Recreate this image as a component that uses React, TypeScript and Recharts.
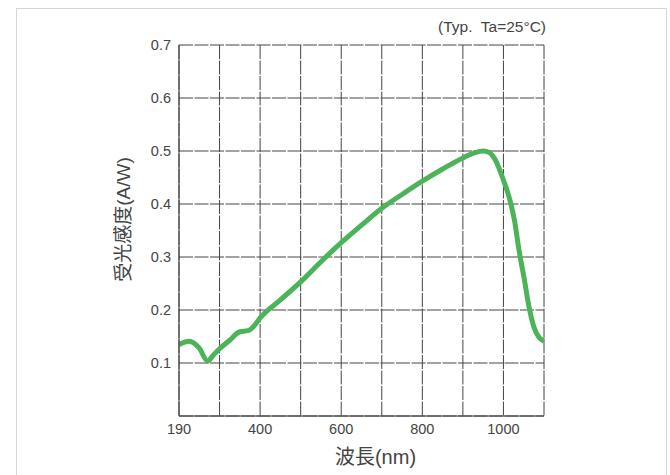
import { LineChart, Line, XAxis, YAxis, CartesianGrid } from 'recharts';

// wavelength (nm) - first grid column is labelled 190 in the original sheet
const wavelengths = [
  200, 225, 250, 270, 285, 300, 325, 350, 370, 385, 400, 450, 500, 550, 600,
  650, 700, 750, 800, 850, 900, 930, 950, 965, 980, 1000, 1015, 1027, 1039,
  1051, 1063, 1075, 1088, 1100,
];
const sensitivity = [
  0.135, 0.141, 0.128, 0.104, 0.115, 0.127, 0.143, 0.159, 0.161, 0.17, 0.185,
  0.219, 0.253, 0.291, 0.327, 0.36, 0.392, 0.418, 0.443, 0.466, 0.487, 0.497,
  0.5, 0.497, 0.483, 0.445, 0.41, 0.37, 0.31, 0.26, 0.206, 0.168, 0.148,
  0.141,
];
const xTicks = [200, 300, 400, 500, 600, 700, 800, 900, 1000, 1100];
const xTickLabels: Record<number, string> = {
  200: '190',
  400: '400',
  600: '600',
  800: '800',
  1000: '1000',
};
const yTicks = [0, 0.1, 0.2, 0.3, 0.4, 0.5, 0.6, 0.7];

const data = wavelengths.map((w, i) => ({ nm: w, value: sensitivity[i] }));

const font = '"Liberation Sans", "Noto Sans CJK JP", sans-serif';
const green = '#4cb358';

export default function App() {
  return (
    <div
      style={{
        position: 'absolute',
        left: 0,
        top: 0,
        width: 670,
        height: 475,
        background: '#fff',
        overflow: 'hidden',
        fontFamily: font,
      }}
    >
      {/* faint frame of the scanned sheet */}
      <div
        style={{
          position: 'absolute',
          left: 16,
          top: 8,
          width: 649,
          height: 480,
          border: '1px solid #d6d6d6',
        }}
      />
      <div
        style={{
          position: 'absolute',
          right: 124,
          top: 18,
          fontSize: 15.5,
          color: '#444',
          whiteSpace: 'pre',
        }}
      >
        {'(Typ.  Ta=25°C)'}
      </div>
      <div style={{ position: 'absolute', left: 0, top: 0 }}>
        <LineChart
          width={670}
          height={475}
          data={data}
          margin={{ top: 45, right: 126, left: 119, bottom: 29 }}
        >
          <CartesianGrid
            stroke="#444"
            strokeDasharray="14 1.5"
            strokeWidth={1}
          />
          <XAxis
            dataKey="nm"
            type="number"
            domain={[200, 1100]}
            ticks={xTicks}
            interval={0}
            tickFormatter={(v: number) => xTickLabels[v] ?? ''}
            axisLine={{ stroke: '#3a3a3a' }}
            tickLine={false}
            height={30}
            tick={{ fontSize: 14.5, fill: '#444', fontFamily: font }}
            label={{
              value: '波長(nm)',
              position: 'bottom',
              offset: 0,
              dx: 14,
              dy: 4,
              style: { fontSize: 20, fill: '#444', fontFamily: font },
            }}
          />
          <YAxis
            type="number"
            domain={[0, 0.7]}
            ticks={yTicks}
            interval={0}
            tickFormatter={(v: number) => (v === 0 ? '' : v.toFixed(1))}
            axisLine={{ stroke: '#3a3a3a' }}
            tickLine={false}
            width={60}
            tick={{ fontSize: 14.5, fill: '#444', fontFamily: font }}
            label={{
              value: '受光感度(A/W)',
              angle: -90,
              position: 'insideLeft',
              offset: 4,
              dy: -11,
              style: {
                fontSize: 19,
                fill: '#444',
                fontFamily: font,
                textAnchor: 'middle',
              },
            }}
          />
          <Line
            type="monotone"
            dataKey="value"
            stroke={green}
            strokeWidth={5}
            dot={false}
            isAnimationActive={false}
          />
        </LineChart>
      </div>
    </div>
  );
}
